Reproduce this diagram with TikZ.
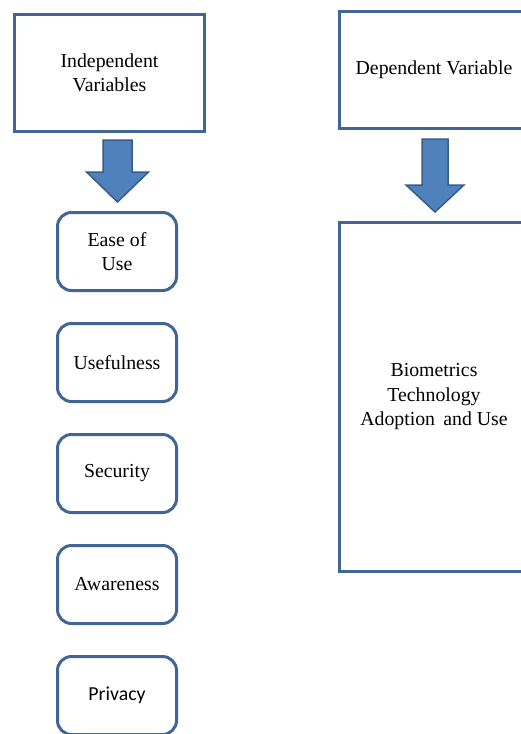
\documentclass[tikz,border=0pt]{standalone}
\usepackage{fontspec}
\setmainfont{Liberation Serif}
\newfontfamily\calibrilike{Carlito}
\usepackage{tikz}
\usetikzlibrary{positioning}
\definecolor{boxline}{RGB}{65,101,148}
\definecolor{arrowfill}{RGB}{79,129,189}
\definecolor{arrowline}{RGB}{56,93,138}

\begin{document}
\begin{tikzpicture}[x=1pt,y=-1pt,
  frame/.style = {draw=boxline,line width=3pt,fill=white,align=center,
        inner sep=0pt},
  factor/.style = {frame,rounded corners=14pt,minimum width=119pt,
        minimum height=78pt},
  bigarrow/.style = {draw=arrowline,line width=1.5pt,fill=arrowfill,
        line join=miter}]
 \fontsize{19.8}{24.5}\selectfont
 \clip (0,0) rectangle (521,734);
 \fill[white] (0,0) rectangle (521,734);

 % left column
 \node[frame,minimum width=190pt,minimum height=117pt] (indep) at(109.5,73)
                   {Independent\\ Variables};
 \node[factor] (ease) at(117,251.5)   {Ease of\\ Use};
 \node[factor] (useful) at(117,362.5) {Usefulness};
 \node[factor] (secur) at(117,473.5)  {Security};
 \node[factor] (aware) at(117,584.5)  {Awareness};
 \node[factor] (priv) at(117,695.5)   {\calibrilike Privacy};

 % right column
 \node[frame,minimum width=189pt,minimum height=117pt] (dep) at(434,70)
                   {Dependent Variable};
 \node[frame,minimum width=189pt,minimum height=349pt] (bio) at(434,397)
                   {Biometrics\\ Technology\\ Adoption\, and Use};

 \coordinate (a1s) at (117.5,140);
 \coordinate (a1t) at (117.5,202);
 \coordinate (a2s) at (435,139);
 \coordinate (a2t) at (435,212);

 \draw[bigarrow] (a1s) -- ++(14.5,0) -- ++(0,32) -- ++(16.5,0) -- (a1t)
       -- ++(-31,-30) -- ++(16.5,0) -- ++(0,-32) -- cycle;
 \draw[bigarrow] (a2s) -- ++(13,0) -- ++(0,46) -- ++(16,0) -- (a2t)
       -- ++(-29,-27) -- ++(16,0) -- ++(0,-46) -- cycle;
\end{tikzpicture}
\end{document}
